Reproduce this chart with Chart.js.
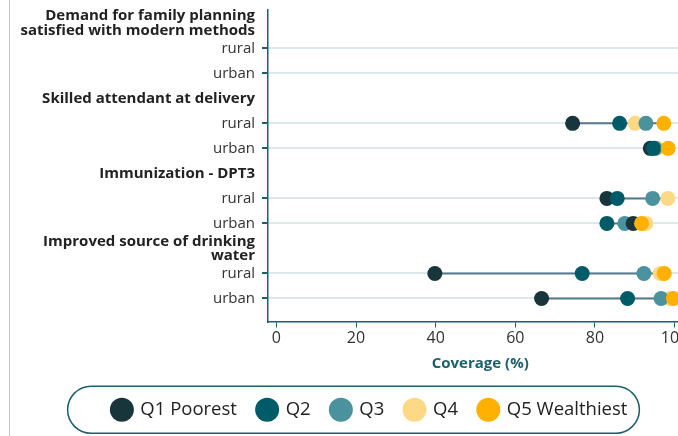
<!DOCTYPE html>
<html>
<head>
<meta charset="utf-8">
<script src="https://cdn.jsdelivr.net/npm/chart.js@4.4.0/dist/chart.umd.min.js"></script>
<style>
  html, body { margin: 0; padding: 0; background: #fff; overflow: hidden; }
  #wrap { position: relative; width: 700px; height: 446px; }
  #edge { position: absolute; left: 9px; top: 0; width: 1px; height: 446px; background: #c4c4c4; }
</style>
</head>
<body>
<div id="wrap">
  <canvas id="chart" width="700" height="446"></canvas>
  <div id="edge"></div>
</div>
<script>
  // Rows of the y axis (headings are bold and carry no dots)
  const rowLabels = [
    ['Demand for family planning', 'satisfied with modern methods'], 'rural', 'urban',
    'Skilled attendant at delivery', 'rural', 'urban',
    'Immunization - DPT3', 'rural', 'urban',
    ['Improved source of drinking', 'water'], 'rural', 'urban'
  ];
  const headingRows = [0, 3, 6, 9];

  const quintiles = ['Q1 Poorest', 'Q2', 'Q3', 'Q4', 'Q5 Wealthiest'];
  const colors = ['#17353a', '#005b69', '#4a929d', '#fdd985', '#ffb000'];
  // draw order: Q5 on top, then Q2, Q1, Q3, Q4 at the bottom
  const drawOrder = [2, 1, 3, 4, 0];

  // coverage (%) per row, null = no data
  const q1 = [null, null, null, null, 74.4, 93.9, null, 83.0, 89.6, null, 39.8, 66.6];
  const q2 = [null, null, null, null, 86.2, 94.7, null, 85.6, 83.0, null, 76.8, 88.2];
  const q3 = [null, null, null, null, 92.8, 95.1, null, 94.5, 87.5, null, 92.3, 96.6];
  const q4 = [null, null, null, null, 90.1, 95.6, null, 98.3, 92.8, null, 96.4, 98.6];
  const q5 = [null, null, null, null, 97.3, 98.4, null, null, 91.7, null, 97.4, 99.7];
  const series = [q1, q2, q3, q4, q5];

  const xTicks = [0, 20, 40, 60, 80, 100];

  const teal = '#1d5f6b';
  const font = '"Open Sans", Lato, sans-serif';

  // range line (min to max) for each row, broken with nulls
  const rangePoints = [];
  rowLabels.forEach((_, i) => {
    const vals = series.map(s => s[i]).filter(v => v !== null);
    if (vals.length) {
      rangePoints.push({ x: Math.min(...vals), y: i });
      rangePoints.push({ x: Math.max(...vals), y: i });
      rangePoints.push({ x: null, y: i });
    }
  });

  const datasets = quintiles.map((name, k) => ({
    type: 'scatter',
    label: name,
    data: series[k].map((v, i) => v === null ? null : { x: v, y: i }).filter(p => p),
    backgroundColor: colors[k],
    borderColor: colors[k],
    pointRadius: 7.5,
    pointHoverRadius: 7.5,
    borderWidth: 0,
    order: drawOrder[k]
  }));
  datasets.push({
    type: 'line',
    label: 'range',
    data: rangePoints,
    borderColor: '#587a8f',
    borderWidth: 2,
    pointRadius: 0,
    spanGaps: false,
    order: 10
  });

  // y labels may run into the left padding, so widen their clip area
  const widenLabels = {
    id: 'widenLabels',
    afterLayout(chart) { chart.scales.y.left = 0; }
  };

  const legendBorder = {
    id: 'legendBorder',
    afterDraw(chart) {
      const boxes = chart.legend.legendHitBoxes;
      if (!boxes || !boxes.length) return;
      const left = Math.min(...boxes.map(b => b.left)) - 45;
      const right = Math.max(...boxes.map(b => b.left + b.width)) + 12;
      const mid = boxes[0].top + boxes[0].height / 2;
      const h = 47;
      const ctx = chart.ctx;
      ctx.save();
      ctx.strokeStyle = teal;
      ctx.lineWidth = 1.5;
      ctx.beginPath();
      ctx.roundRect(left, mid - h / 2, right - left, h, h / 2);
      ctx.stroke();
      ctx.restore();
    }
  };

  new Chart(document.getElementById('chart'), {
    type: 'scatter',
    data: { datasets },
    options: {
      responsive: false,
      animation: false,
      layout: { padding: { top: 10, left: 40, right: 0, bottom: 17 } },
      scales: {
        x: {
          type: 'linear',
          min: -2.1,
          max: 104.5,
          afterBuildTicks: (scale) => { scale.ticks = xTicks.map(v => ({ value: v })); },
          afterFit: (scale) => { scale.height = 46; },
          border: { color: teal, width: 1.5 },
          grid: { drawOnChartArea: false, tickLength: 6, tickColor: teal },
          ticks: { color: '#333', font: { family: font, size: 16 }, padding: 1 },
          title: {
            display: true,
            text: 'Coverage (%)',
            color: teal,
            font: { family: font, size: 15, weight: 'bold' },
            padding: { top: 4, bottom: -5 }
          }
        },
        y: {
          type: 'linear',
          reverse: true,
          min: -0.53,
          max: 11.92,
          afterBuildTicks: (scale) => { scale.ticks = rowLabels.map((_, i) => ({ value: i })); },
          afterFit: (scale) => {
            scale.width = 228;
            scale.paddingTop = 0;
            scale.paddingBottom = 0;
          },
          border: { color: teal, width: 1.5 },
          grid: {
            tickLength: 6,
            color: (ctx) => headingRows.includes(ctx.index) ? 'rgba(0,0,0,0)' : '#dde8ed',
            tickColor: (ctx) => headingRows.includes(ctx.index) ? 'rgba(0,0,0,0)' : teal,
            lineWidth: 2
          },
          ticks: {
            autoSkip: false,
            padding: 7,
            color: (ctx) => headingRows.includes(ctx.index) ? '#222' : '#333',
            font: (ctx) => headingRows.includes(ctx.index)
              ? { family: font, size: 15, weight: 'bold', lineHeight: 0.95 }
              : { family: font, size: 15 },
            callback: (v, i) => rowLabels[i]
          }
        }
      },
      plugins: {
        legend: {
          position: 'bottom',
          title: { display: true, text: '', font: { size: 10 }, padding: 0 },
          labels: {
            filter: (item) => item.text !== 'range',
            sort: (a, b) => a.datasetIndex - b.datasetIndex,
            usePointStyle: true,
            pointStyle: 'circle',
            boxHeight: 17,
            padding: 21,
            color: '#222',
            font: { family: font, size: 18.5 }
          }
        },
        tooltip: { enabled: false }
      }
    },
    plugins: [widenLabels, legendBorder]
  });
</script>
</body>
</html>
